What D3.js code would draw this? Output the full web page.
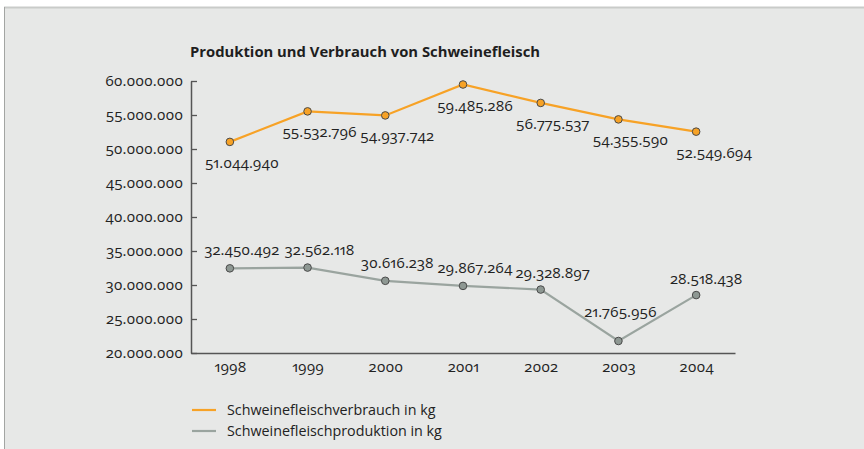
<!DOCTYPE html>
<html><head><meta charset="utf-8">
<script src="https://cdn.jsdelivr.net/npm/d3@7"></script>
<style>
html,body{margin:0;padding:0;background:#fff;}
svg{display:block;font-family:"Open Sans","Noto Sans",sans-serif;font-variant-numeric:oldstyle-nums proportional-nums;}
</style></head>
<body><svg id="c" width="864" height="449"></svg>
<script>
const years = ["1998","1999","2000","2001","2002","2003","2004"];
const verbrauch = [51044940, 55532796, 54937742, 59485286, 56775537, 54355590, 52549694];
const produktion = [32450492, 32562118, 30616238, 29867264, 29328897, 21765956, 28518438];
const yTicks = [20000000,25000000,30000000,35000000,40000000,45000000,50000000,55000000,60000000];
const title = "Produktion und Verbrauch von Schweinefleisch";
const legendLabels = ["Schweinefleischverbrauch in kg","Schweinefleischproduktion in kg"];

// label placement tweaks (layout only)
const verbrauchDx = [12,12,12,12,12,12,18];
const produktionDx = [12,12,12,12,12,2,10];
const produktionDy = [-18,-18,-18,-18,-17,-29,-16];

const locale = d3.formatLocale({decimal:",", thousands:".", grouping:[3], currency:["","€"]});
const fmt = locale.format(",d");

const svg = d3.select("#c");
svg.append("rect").attr("x",4).attr("y",7).attr("width",860).attr("height",442).attr("fill","#e7e8e7");
svg.append("line").attr("x1",4).attr("x2",864).attr("y1",7.5).attr("y2",7.5).attr("stroke","#c9cbc9").attr("stroke-width",2);
svg.append("line").attr("x1",4.5).attr("x2",4.5).attr("y1",7).attr("y2",449).attr("stroke","#a3a5a3").attr("stroke-width",1);

const x = d3.scalePoint().domain(years).range([191,735]).padding(0.5);
const y = d3.scaleLinear().domain([20000000,60000000]).range([353,81]);

svg.append("text").attr("x",190).attr("y",57).attr("font-size",14.8).attr("font-weight","bold")
  .attr("fill","#1e1e1e").text(title);

const axisColor = "#555";
const gy = svg.append("g").attr("transform","translate(191,0)")
  .call(d3.axisLeft(y).tickValues(yTicks).tickFormat(fmt).tickSizeInner(-6).tickSizeOuter(0).tickPadding(8));
gy.select(".domain").attr("stroke",axisColor).attr("stroke-width",1.5);
gy.selectAll(".tick line").attr("stroke",axisColor).attr("stroke-width",1.3);
gy.selectAll(".tick text").attr("font-size",15).attr("fill","#222");

const gx = svg.append("g").attr("transform","translate(0,353)")
  .call(d3.axisBottom(x).tickSize(0).tickPadding(8));
gx.select(".domain").attr("stroke",axisColor).attr("stroke-width",1.5);
gx.selectAll(".tick text").attr("font-size",15).attr("fill","#222");
svg.selectAll("g").attr("font-family",null).attr("font-size",null);

const orange = "#f7a226", gray = "#9aa49f", grayPt = "#8e9893";
const line = d3.line().x((d,i)=>x(years[i])).y(d=>y(d));

function series(vals, col, ptCol){
  svg.append("path").datum(vals).attr("d",line).attr("fill","none").attr("stroke",col).attr("stroke-width",2.2);
  svg.append("g").selectAll("circle").data(vals).join("circle")
    .attr("cx",(d,i)=>x(years[i])).attr("cy",d=>y(d)).attr("r",3.8)
    .attr("fill",ptCol).attr("stroke","#4a4a4a").attr("stroke-width",1);
}
series(verbrauch, orange, orange);
series(produktion, gray, grayPt);

svg.append("g").selectAll("text").data(verbrauch).join("text")
  .attr("x",(d,i)=>x(years[i])+verbrauchDx[i]).attr("y",d=>y(d)+26)
  .attr("text-anchor","middle").attr("font-size",15).attr("fill","#222").text(d=>fmt(d));
svg.append("g").selectAll("text").data(produktion).join("text")
  .attr("x",(d,i)=>x(years[i])+produktionDx[i]).attr("y",(d,i)=>y(d)+produktionDy[i]+5)
  .attr("text-anchor","middle").attr("font-size",15).attr("fill","#222").text(d=>fmt(d));

const leg = svg.append("g");
[orange, gray].forEach((c,i)=>{
  const yy = 410 + i*21;
  leg.append("line").attr("x1",192).attr("x2",216).attr("y1",yy).attr("y2",yy).attr("stroke",c).attr("stroke-width",2.2);
  leg.append("text").attr("x",227).attr("y",yy+5).attr("font-size",14.3).attr("fill","#222").text(legendLabels[i]);
});
</script></body></html>
